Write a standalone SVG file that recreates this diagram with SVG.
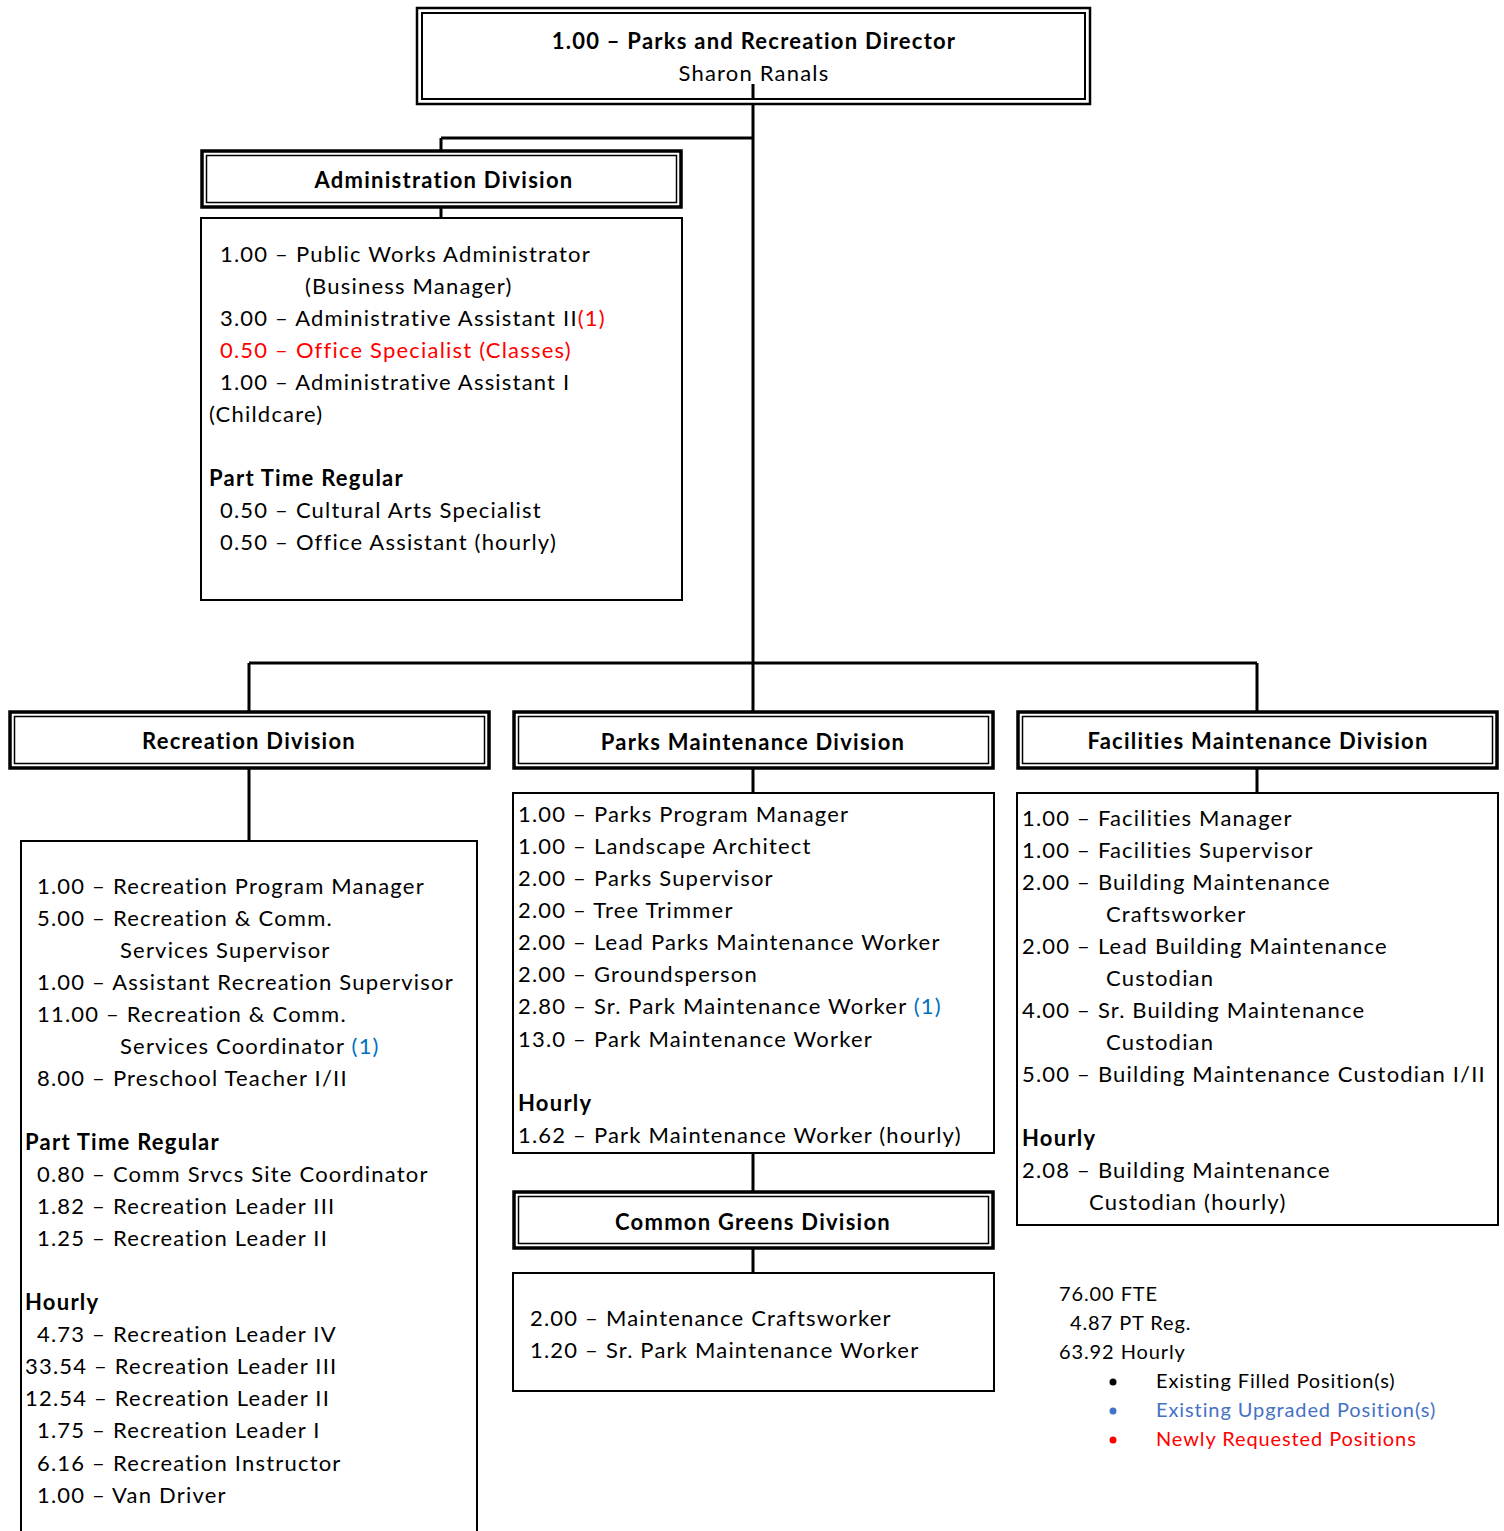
<svg xmlns="http://www.w3.org/2000/svg" width="1504" height="1531" viewBox="0 0 1504 1531">
<style>
text{font-family:Lato,"Liberation Sans",sans-serif;font-size:22px;letter-spacing:1.2px;fill:#000}
.b{font-weight:bold;letter-spacing:1.25px}
.c{text-anchor:middle}
.r{fill:#FF0000}
.bl{fill:#0070C0}
.lb{fill:#4472C4}
.lg{font-size:20px;letter-spacing:0.9px}
.box{fill:#fff;stroke:#000;stroke-width:2}
.ho{fill:#fff;stroke:#000;stroke-width:3.5}
.hi{fill:none;stroke:#000;stroke-width:1.5}
.ln{stroke:#000;stroke-width:3;fill:none}
</style>
<rect width="1504" height="1531" fill="#fff"/>
<g id="connectors">
<path class="ln" d="M753 84V663M441 138H753M441 138V152M441 208V218M249 663H1257M249 663V712M753 663V712M1257 663V712M249 769V840M753 769V793M753 1153V1191M753 1249V1273M1257 769V793"/>
</g>
<g id="director">
<rect x="417" y="8" width="673" height="96" fill="#fff" stroke="#000" stroke-width="2.5"/>
<rect x="422" y="13" width="663" height="86" fill="none" stroke="#000" stroke-width="2"/>
<path class="ln" d="M753 84V100"/>
<text x="754" y="49" class="b c">1.00 – Parks and Recreation Director</text>
<text x="754" y="81" class="c">Sharon Ranals</text>
</g>
<g id="admin-header">
<rect class="ho" x="202" y="151" width="479" height="56"/>
<rect class="hi" x="206.5" y="155.5" width="470" height="47"/>
<text x="444" y="188" class="b c">Administration Division</text>
</g>
<g id="admin-body">
<rect class="box" x="201" y="218" width="481" height="382"/>
<text x="220" y="262">1.00 – Public Works Administrator</text>
<text x="305" y="294">(Business Manager)</text>
<text x="220" y="326">3.00 – Administrative Assistant II<tspan class="r">(1)</tspan></text>
<text x="220" y="358" class="r">0.50 – Office Specialist (Classes)</text>
<text x="220" y="390">1.00 – Administrative Assistant I</text>
<text x="209" y="422">(Childcare)</text>
<text x="209" y="486" class="b">Part Time Regular</text>
<text x="220" y="518">0.50 – Cultural Arts Specialist</text>
<text x="220" y="550">0.50 – Office Assistant (hourly)</text>
</g>
<g id="rec-header">
<rect class="ho" x="10" y="712" width="479" height="56"/>
<rect class="hi" x="14.5" y="716.5" width="470" height="47"/>
<text x="249" y="749" class="b c">Recreation Division</text>
</g>
<g id="rec-body">
<path d="M21 1531V841H477V1531" fill="#fff" stroke="#000" stroke-width="2"/>
<text x="37" y="894">1.00 – Recreation Program Manager</text>
<text x="37" y="926">5.00 – Recreation &amp; Comm.</text>
<text x="120" y="958">Services Supervisor</text>
<text x="37" y="990">1.00 – Assistant Recreation Supervisor</text>
<text x="37" y="1022">11.00 – Recreation &amp; Comm.</text>
<text x="120" y="1054">Services Coordinator <tspan class="bl">(1)</tspan></text>
<text x="37" y="1086">8.00 – Preschool Teacher I/II</text>
<text x="25" y="1150" class="b">Part Time Regular</text>
<text x="37" y="1182">0.80 – Comm Srvcs Site Coordinator</text>
<text x="37" y="1214">1.82 – Recreation Leader III</text>
<text x="37" y="1246">1.25 – Recreation Leader II</text>
<text x="25" y="1310" class="b">Hourly</text>
<text x="37" y="1342">4.73 – Recreation Leader IV</text>
<text x="25" y="1374">33.54 – Recreation Leader III</text>
<text x="25" y="1406">12.54 – Recreation Leader II</text>
<text x="37" y="1438">1.75 – Recreation Leader I</text>
<text x="37" y="1471">6.16 – Recreation Instructor</text>
<text x="37" y="1503">1.00 – Van Driver</text>
</g>
<g id="parks-header">
<rect class="ho" x="514" y="712" width="479" height="56"/>
<rect class="hi" x="518.5" y="716.5" width="470" height="47"/>
<text x="753" y="750" class="b c">Parks Maintenance Division</text>
</g>
<g id="parks-body">
<rect class="box" x="513" y="793" width="481" height="360"/>
<text x="518" y="822">1.00 – Parks Program Manager</text>
<text x="518" y="854">1.00 – Landscape Architect</text>
<text x="518" y="886">2.00 – Parks Supervisor</text>
<text x="518" y="918">2.00 – Tree Trimmer</text>
<text x="518" y="950">2.00 – Lead Parks Maintenance Worker</text>
<text x="518" y="982">2.00 – Groundsperson</text>
<text x="518" y="1014">2.80 – Sr. Park Maintenance Worker <tspan class="bl">(1)</tspan></text>
<text x="518" y="1047">13.0 – Park Maintenance Worker</text>
<text x="518" y="1111" class="b">Hourly</text>
<text x="518" y="1143">1.62 – Park Maintenance Worker (hourly)</text>
</g>
<g id="greens-header">
<rect class="ho" x="514" y="1192" width="479" height="56"/>
<rect class="hi" x="518.5" y="1196.5" width="470" height="47"/>
<text x="753" y="1230" class="b c">Common Greens Division</text>
</g>
<g id="greens-body">
<rect class="box" x="513" y="1273" width="481" height="118"/>
<text x="530" y="1326">2.00 – Maintenance Craftsworker</text>
<text x="530" y="1358">1.20 – Sr. Park Maintenance Worker</text>
</g>
<g id="fac-header">
<rect class="ho" x="1018" y="712" width="479" height="56"/>
<rect class="hi" x="1022.5" y="716.5" width="470" height="47"/>
<text x="1258" y="749" class="b c">Facilities Maintenance Division</text>
</g>
<g id="fac-body">
<rect class="box" x="1017" y="793" width="481" height="432"/>
<text x="1022" y="826">1.00 – Facilities Manager</text>
<text x="1022" y="858">1.00 – Facilities Supervisor</text>
<text x="1022" y="890">2.00 – Building Maintenance</text>
<text x="1106" y="922">Craftsworker</text>
<text x="1022" y="954">2.00 – Lead Building Maintenance</text>
<text x="1106" y="986">Custodian</text>
<text x="1022" y="1018">4.00 – Sr. Building Maintenance</text>
<text x="1106" y="1050">Custodian</text>
<text x="1022" y="1082">5.00 – Building Maintenance Custodian I/II</text>
<text x="1022" y="1146" class="b">Hourly</text>
<text x="1022" y="1178">2.08 – Building Maintenance</text>
<text x="1089" y="1210">Custodian (hourly)</text>
</g>
<g id="legend">
<text x="1059" y="1301" class="lg">76.00 FTE</text>
<text x="1070" y="1330" class="lg">4.87 PT Reg.</text>
<text x="1059" y="1359" class="lg">63.92 Hourly</text>
<circle cx="1113" cy="1382" r="3.5" fill="#000"/>
<circle cx="1113" cy="1411" r="3.5" fill="#4472C4"/>
<circle cx="1113" cy="1440" r="3.5" fill="#FF0000"/>
<text x="1156" y="1388" class="lg">Existing Filled Position(s)</text>
<text x="1156" y="1417" class="lg lb">Existing Upgraded Position(s)</text>
<text x="1156" y="1446" class="lg r">Newly Requested Positions</text>
</g>
</svg>
